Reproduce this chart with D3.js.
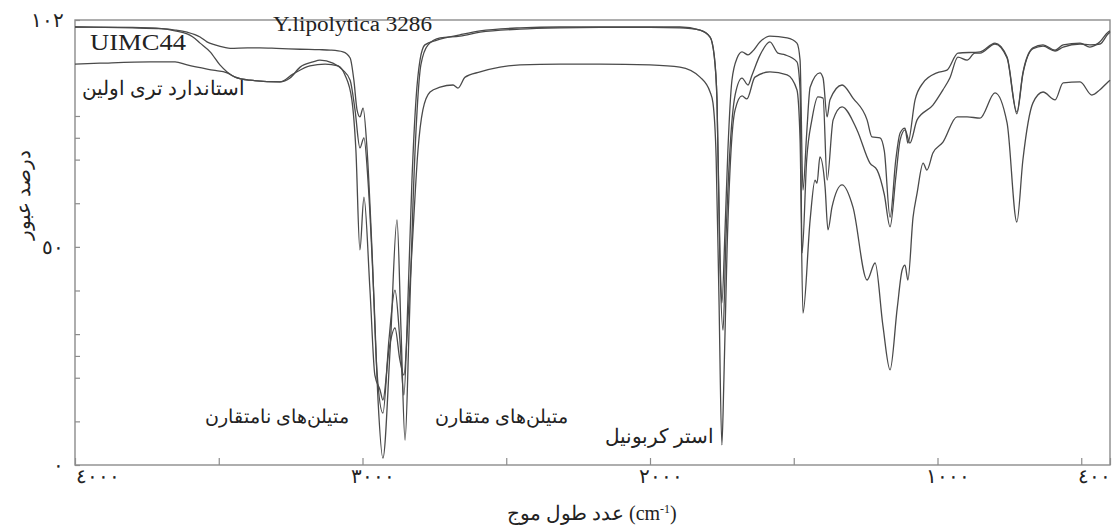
<!DOCTYPE html>
<html>
<head>
<meta charset="utf-8">
<script src="https://cdn.jsdelivr.net/npm/d3@7"></script>
<style>
    body { margin: 0; background: #fff; }
    svg { display: block; }
    .series { fill: none; stroke: #4a4a4a; stroke-width: 1.3; }
    .frame { fill: none; stroke: #8c8c8c; stroke-width: 1.4; }
    .axis line { stroke: #8c8c8c; stroke-width: 1.2; }
    .axis text { font-family: 'Liberation Serif', serif; font-size: 20px; fill: #222; }
    .label { font-family: 'Liberation Serif', serif; fill: #222; }
</style>
</head>
<body>
<div id="chart"></div>
<script>
// [wavenumber cm-1, transmittance %]
const yLipolytica = [
    [4000,100.4],[3900,100.3],[3800,100.2],[3700,100.0],[3652,99.7],[3610,99.2],[3565,98.1],[3541,97.0],
    [3513,96.3],[3480,95.7],[3460,95.5],[3400,95.6],[3357,95.6],[3300,95.5],[3217,95.3],[3150,95.2],
    [3113,95.1],[3068,94.7],[3043,93.3],[3030,88.2],[3019,81.4],[3009,79.8],[2998,81.8],[2984,72.2],
    [2967,49.3],[2950,21.8],[2929,11.9],[2908,28.7],[2887,40.1],[2870,28.7],[2856,16.0],[2842,37.8],
    [2828,65.3],[2814,83.7],[2800,92.8],[2783,96.3],[2741,97.4],[2661,98.6],[2591,99.5],[2452,100.2],
    [2313,100.4],[2174,100.4],[2000,100.4],[1896,100.4],[1826,99.7],[1791,98.1],[1777,94.0],[1767,83.7],
    [1757,49.3],[1750,37.1],[1739,53.9],[1729,72.2],[1715,88.2],[1697,93.3],[1680,94.7],[1659,94.0],
    [1645,94.7],[1617,97.0],[1583,98.3],[1523,97.9],[1489,96.7],[1478,92.8],[1468,63.0],[1455,76.0],
    [1443,86.6],[1409,89.9],[1398,88.7],[1384,79.8],[1374,83.7],[1332,87.1],[1294,84.1],[1245,79.1],
    [1228,75.2],[1200,75.0],[1185,72.0],[1165,56.8],[1145,70.0],[1130,76.1],[1113,77.2],[1103,73.8],
    [1078,83.7],[1050,87.6],[1002,89.9],[967,90.5],[929,94.4],[852,94.7],[800,96.7],[758,93.5],
    [724,80.9],[703,89.9],[668,95.6],[633,96.3],[591,95.1],[563,96.3],[504,96.7],[470,95.8],
    [435,97.0],[407,99.2],[400,99.5]
];

const uimc44 = [
    [4000,100.4],[3800,100.3],[3700,100.0],[3652,99.5],[3610,98.8],[3590,98.1],[3565,96.7],[3530,94.7],
    [3496,91.7],[3471,90.1],[3443,88.9],[3391,88.2],[3287,87.8],[3252,88.7],[3217,91.2],[3172,92.4],
    [3148,92.8],[3103,92.1],[3068,90.5],[3043,88.2],[3026,81.4],[3009,72.7],[2995,75.0],[2981,65.3],
    [2960,37.8],[2946,14.9],[2929,1.6],[2904,26.4],[2880,56.2],[2866,30.9],[2852,5.7],[2838,30.9],
    [2824,60.7],[2810,81.4],[2797,91.7],[2772,96.3],[2730,97.9],[2661,98.3],[2591,99.2],[2452,99.9],
    [2313,100.2],[2174,100.3],[2000,100.3],[1896,100.2],[1826,99.7],[1791,98.1],[1777,94.0],[1767,83.7],
    [1757,47.0],[1746,30.9],[1736,51.6],[1722,72.2],[1704,84.8],[1680,88.7],[1659,87.1],[1645,89.4],
    [1617,94.0],[1583,97.0],[1555,94.4],[1530,94.0],[1489,92.4],[1478,86.0],[1471,48.6],[1455,70.0],
    [1437,79.1],[1416,84.4],[1398,84.1],[1384,65.3],[1363,79.1],[1332,82.1],[1280,76.8],[1235,69.2],
    [1210,67.6],[1185,62.0],[1165,54.6],[1145,66.0],[1130,74.5],[1113,76.8],[1096,73.8],[1071,79.1],
    [1016,82.5],[981,86.0],[957,88.7],[929,93.5],[897,92.8],[870,94.4],[852,94.4],[800,96.5],
    [758,93.3],[724,80.5],[703,89.6],[668,95.4],[633,96.0],[591,94.9],[563,95.8],[504,96.5],
    [470,96.3],[435,96.5],[407,98.8],[400,99.2]
];

const triolein = [
    [4000,91.9],[3913,92.1],[3739,92.4],[3652,92.4],[3610,91.7],[3520,90.5],[3471,89.9],[3443,88.9],
    [3391,88.2],[3287,87.8],[3242,89.6],[3183,91.5],[3130,91.9],[3085,91.5],[3061,89.4],[3037,83.7],
    [3023,72.2],[3009,49.3],[2995,61.4],[2974,40.1],[2957,20.6],[2939,17.2],[2929,14.9],[2908,26.4],
    [2887,31.4],[2870,24.1],[2856,20.6],[2842,33.2],[2824,53.9],[2807,72.2],[2790,81.4],[2765,85.5],
    [2730,86.6],[2685,87.1],[2668,86.4],[2643,88.9],[2591,90.1],[2522,91.2],[2452,91.7],[2313,91.9],
    [2174,91.9],[2000,91.7],[1896,91.2],[1826,88.9],[1791,85.5],[1781,83.0],[1770,70.6],[1760,37.8],
    [1750,4.6],[1743,19.5],[1732,49.3],[1718,72.2],[1704,81.4],[1680,84.6],[1663,83.9],[1635,88.9],
    [1583,90.1],[1523,89.4],[1489,86.0],[1478,74.5],[1468,34.8],[1443,56.2],[1426,65.3],[1419,64.6],
    [1409,70.6],[1391,63.7],[1381,53.9],[1367,59.1],[1332,64.2],[1294,59.1],[1245,42.4],[1217,46.3],
    [1190,32.0],[1165,21.8],[1140,36.0],[1123,44.7],[1113,45.8],[1103,42.4],[1085,56.8],[1071,62.3],
    [1050,69.2],[1037,67.6],[1016,71.5],[981,74.0],[932,79.8],[897,79.8],[852,79.5],[800,85.3],
    [758,78.4],[724,55.7],[703,69.9],[668,83.0],[633,85.5],[591,83.7],[563,87.6],[504,87.8],
    [463,84.8],[435,86.0],[407,87.8],[400,88.2]
];

const xTickValues = [4000, 3500, 3000, 2500, 2000, 1500, 1000, 500, 400];
const xTickLabels = ['٤٠٠٠', '', '٣٠٠٠', '', '٢٠٠٠', '', '١٠٠٠', '', '٤٠٠'];
const yTickValues = [0, 10, 20, 25, 30, 40, 50, 60, 70, 75, 80, 102];
const yTickLabels = ['٠', '', '', '', '', '', '٥٠', '', '', '', '', '١٠٢'];

const width = 1116;
const height = 529;
const margin = { top: 20, left: 75, bottom: 64, right: 6 };

const xScale = d3.scaleLinear()
    .domain([4000, 400])
    .range([margin.left, width - margin.right]);

const yScale = d3.scaleLinear()
    .domain([0, 102])
    .range([height - margin.bottom, margin.top]);

const svg = d3.select('#chart')
    .append('svg')
        .attr('width', width)
        .attr('height', height);

const xAxis = d3.axisBottom(xScale)
    .tickValues(xTickValues)
    .tickFormat((d, i) => xTickLabels[i])
    .tickSize(-7)
    .tickPadding(4);

const gx = svg.append('g')
    .classed('axis', true)
    .attr('transform', `translate(0, ${yScale(0)})`)
    .call(xAxis);
gx.select('.domain').remove();
gx.selectAll('.tick text')
    .attr('text-anchor', (d, i) => i === 0 ? 'start' : i === xTickValues.length - 1 ? 'end' : 'middle')
    .attr('dx', (d, i) => i === 0 || i === xTickValues.length - 1 ? 0 : 10);

const yAxis = d3.axisLeft(yScale)
    .tickValues(yTickValues)
    .tickFormat((d, i) => yTickLabels[i])
    .tickSize(-5)
    .tickPadding(11);

const gy = svg.append('g')
    .classed('axis', true)
    .attr('transform', `translate(${xScale(4000)}, 0)`)
    .call(yAxis);
gy.select('.domain').remove();

svg.append('rect')
    .classed('frame', true)
    .attr('x', xScale(4000))
    .attr('y', yScale(102))
    .attr('width', xScale(400) - xScale(4000))
    .attr('height', yScale(0) - yScale(102));

const lineGenerator = d3.line()
    .x(d => xScale(d[0]))
    .y(d => yScale(d[1]))
    .curve(d3.curveMonotoneX);

[yLipolytica, uimc44, triolein].forEach(series => {
    svg.append('path')
        .classed('series', true)
        .attr('d', lineGenerator(series));
});

// labels on the plot
const labels = [
    { text: 'Y.lipolytica 3286', x: 273, y: 31, size: 20, len: 159 },
    { text: 'UIMC44', x: 90, y: 50, size: 23, len: 96 },
    { text: 'استاندارد تری اولین', x: 82, y: 95, size: 20 },
    { text: 'متیلن‌های نامتقارن', x: 205, y: 423, size: 19 },
    { text: 'متیلن‌های متقارن', x: 435, y: 423, size: 19 },
    { text: 'استر کربونیل', x: 605, y: 443, size: 20 }
];

labels.forEach(l => {
    const t = svg.append('text')
        .classed('label', true)
        .attr('x', l.x)
        .attr('y', l.y)
        .style('font-size', l.size + 'px')
        .text(l.text);
    if (l.len) {
        t.attr('textLength', l.len).attr('lengthAdjust', 'spacingAndGlyphs');
    }
});

svg.append('text')
    .classed('label', true)
    .attr('transform', 'translate(30, 195) rotate(-90)')
    .attr('text-anchor', 'middle')
    .style('font-size', '20px')
    .text('درصد عبور');

svg.append('text')
    .classed('label', true)
    .attr('x', 624)
    .attr('y', 520)
    .attr('text-anchor', 'end')
    .style('font-size', '20px')
    .text('عدد طول موج');

const unit = svg.append('text')
    .classed('label', true)
    .attr('x', 629)
    .attr('y', 520)
    .style('font-size', '20px');
unit.append('tspan').text('(cm');
unit.append('tspan').attr('dy', -7).style('font-size', '12px').text('-1');
unit.append('tspan').attr('dy', 7).text(')');
</script>
</body>
</html>
